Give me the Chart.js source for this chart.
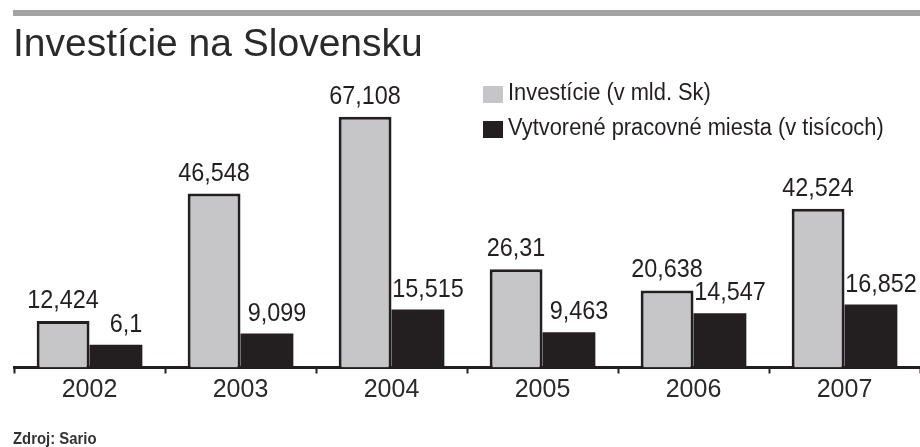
<!DOCTYPE html>
<html>
<head>
<meta charset="utf-8">
<script src="https://cdn.jsdelivr.net/npm/chart.js@4/dist/chart.umd.min.js"></script>
<style>
  html, body { margin: 0; padding: 0; background: #fff; overflow: hidden; }
  #wrap { position: relative; width: 920px; height: 447px; font-family: "Liberation Sans", Arial, sans-serif; color: #231f20; }
  #wrap canvas { position: absolute; left: 0; top: 0; }
  .topbar { position: absolute; left: 13px; top: 10px; width: 907px; height: 6px; background: #a3a3a3; }
  .title { position: absolute; left: 13px; top: 23px; font-size: 39px; line-height: 39px; white-space: nowrap; color: #2a2a2a; }
  .legend { position: absolute; left: 483px; top: 0; }
  .legend .row { position: absolute; left: 0; white-space: nowrap; font-size: 23.5px; line-height: 23.5px; }
  .legend .sw { position: absolute; left: 0; width: 20px; height: 17px; }
  .legend .txt { position: absolute; left: 25px; top: 0; transform: scaleX(0.93); transform-origin: 0 0; }
  .source { position: absolute; left: 13px; top: 431px; font-size: 16px; line-height: 16px; font-weight: bold; color: #333;
            white-space: nowrap; transform: scaleX(0.93); transform-origin: 0 0; }
</style>
</head>
<body>
<div id="wrap">
  <canvas id="chart" width="920" height="447"></canvas>
  <div class="topbar"></div>
  <div class="title">Investície na Slovensku</div>
  <div class="legend" id="legend"></div>
  <div class="source">Zdroj: Sario</div>
</div>
<script>
const years = ["2002", "2003", "2004", "2005", "2006", "2007"];
const investicie = [12.424, 46.548, 67.108, 26.31, 20.638, 42.524];
const pracovneMiesta = [6.1, 9.099, 15.515, 9.463, 14.547, 16.852];
const seriesNames = ["Investície (v mld. Sk)", "Vytvorené pracovné miesta (v tisícoch)"];

const GREY = "#c6c6c8";
const DARK = "#231f20";

// cisla nad stlpcami, s desatinnou ciarkou (mierne zuzene pismo)
const valueLabels = {
  id: "valueLabels",
  afterDatasetsDraw(chart) {
    const ctx = chart.ctx;
    chart.data.datasets.forEach((ds, i) => {
      const meta = chart.getDatasetMeta(i);
      const shift = i === 1 ? 10 : 0;
      meta.data.forEach((bar, j) => {
        const txt = String(ds.data[j]).replace(".", ",");
        ctx.save();
        ctx.translate(bar.x + shift, bar.y - 13);
        ctx.scale(0.9, 1);
        ctx.font = "26px 'Liberation Sans', Arial, sans-serif";
        ctx.fillStyle = DARK;
        ctx.textAlign = "center";
        ctx.textBaseline = "alphabetic";
        ctx.fillText(txt, 0, 0);
        ctx.restore();
      });
    });
  },
};

const chart = new Chart(document.getElementById("chart"), {
  type: "bar",
  data: {
    labels: years,
    datasets: [
      {
        label: seriesNames[0],
        data: investicie,
        backgroundColor: GREY,
        borderColor: DARK,
        borderWidth: 3,
      },
      {
        label: seriesNames[1],
        data: pracovneMiesta,
        backgroundColor: DARK,
        borderWidth: 0,
      },
    ],
  },
  options: {
    responsive: false,
    devicePixelRatio: 1,
    animation: false,
    datasets: { bar: { categoryPercentage: 0.7, barPercentage: 1 } },
    layout: { padding: { left: 14, top: 106, right: 0, bottom: 0 } },
    plugins: {
      legend: { display: false },
      tooltip: { enabled: false },
    },
    scales: {
      y: { display: false, min: 0, max: 70 },
      x: {
        afterFit: (scale) => { scale.height = 447 - 367.5; },
        grid: {
          display: true,
          offset: true,
          drawOnChartArea: false,
          drawTicks: true,
          tickLength: 6,
          tickColor: DARK,
          tickWidth: 2,
        },
        border: { display: true, color: DARK, width: 3 },
        ticks: {
          color: "#2a2a2a",
          padding: 2,
          font: { family: "'Liberation Sans', Arial, sans-serif", size: 25 },
        },
      },
    },
  },
  plugins: [valueLabels],
});

// legenda z datasetov
const legend = document.getElementById("legend");
const rowTops = [81, 116];
chart.data.datasets.forEach((ds, i) => {
  const row = document.createElement("div");
  row.className = "row";
  row.style.top = rowTops[i] + "px";
  const sw = document.createElement("div");
  sw.className = "sw";
  sw.style.top = "5px";
  sw.style.background = ds.backgroundColor;
  const txt = document.createElement("div");
  txt.className = "txt";
  txt.textContent = ds.label;
  row.appendChild(sw);
  row.appendChild(txt);
  legend.appendChild(row);
});
</script>
</body>
</html>
